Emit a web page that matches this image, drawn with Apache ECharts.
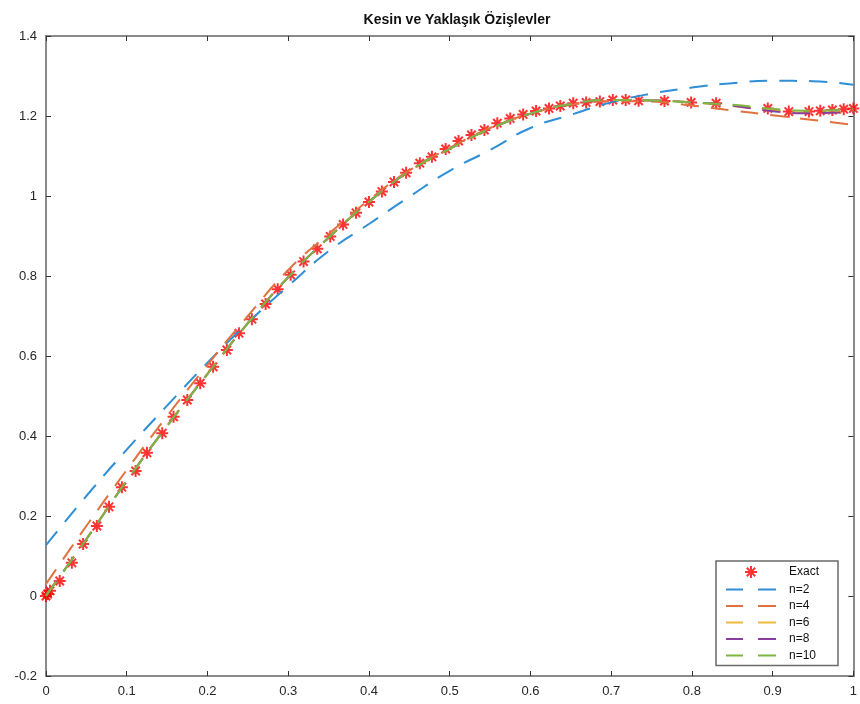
<!DOCTYPE html>
<html>
<head>
<meta charset="utf-8">
<script src="https://cdn.jsdelivr.net/npm/echarts@6/dist/echarts.min.js"></script>
<style>
  html, body { margin: 0; padding: 0; background: #fff; }
  #chart { width: 860px; height: 704px; }
</style>
</head>
<body>
<div id="chart"></div>
<script>
// exact solution points (solver output, uneven spacing)
var exactX = [0, 0.002, 0.005, 0.017, 0.032, 0.046, 0.063, 0.078, 0.094, 0.111, 0.125, 0.144, 0.158,
  0.175, 0.191, 0.207, 0.224, 0.239, 0.255, 0.272, 0.287, 0.303, 0.319, 0.336, 0.352, 0.368, 0.384,
  0.400, 0.416, 0.431, 0.446, 0.463, 0.478, 0.495, 0.511, 0.527, 0.543, 0.559, 0.575, 0.591, 0.607,
  0.623, 0.637, 0.653, 0.669, 0.686, 0.702, 0.718, 0.734, 0.766, 0.799, 0.830, 0.894, 0.920, 0.945,
  0.959, 0.974, 0.988, 1.0];
var exactY = [0, 0.005, 0.013, 0.0375, 0.083, 0.13, 0.175, 0.223, 0.272, 0.3125, 0.358, 0.407, 0.448,
  0.49, 0.532, 0.573, 0.615, 0.657, 0.692, 0.73, 0.767, 0.803, 0.836, 0.868, 0.899, 0.929, 0.958,
  0.985, 1.011, 1.035, 1.058, 1.082, 1.098, 1.1175, 1.1375, 1.1525, 1.165, 1.182, 1.194, 1.204, 1.2125,
  1.219, 1.225, 1.232, 1.234, 1.236, 1.24, 1.24, 1.238, 1.2375, 1.234, 1.232, 1.219, 1.211, 1.211,
  1.213, 1.215, 1.217, 1.219];

// approximations, read at x = 0, 0.05, ..., 1
var approxX = [0, 0.05, 0.1, 0.15, 0.2, 0.25, 0.3, 0.35, 0.4, 0.45, 0.5,
  0.55, 0.6, 0.65, 0.7, 0.75, 0.8, 0.85, 0.9, 0.95, 1.0];
var n2 = [0.127, 0.25, 0.366, 0.476, 0.583, 0.683, 0.775, 0.862, 0.93, 0.998, 1.063,
  1.115, 1.17, 1.203, 1.234, 1.256, 1.271, 1.282, 1.288, 1.287, 1.278];
var n4 = [0.03, 0.175, 0.315, 0.45, 0.578, 0.70, 0.815, 0.905, 0.99, 1.064, 1.12,
  1.17, 1.206, 1.228, 1.237, 1.236, 1.226, 1.214, 1.202, 1.19, 1.178];
var n6 = [0.002, 0.143, 0.289, 0.426, 0.556, 0.682, 0.797, 0.896, 0.985, 1.062, 1.118,
  1.168, 1.206, 1.23, 1.24, 1.239, 1.234, 1.225, 1.214, 1.208, 1.212];
var n8 = [0.001, 0.142, 0.288, 0.425, 0.555, 0.682, 0.797, 0.896, 0.985, 1.062, 1.118,
  1.168, 1.206, 1.23, 1.24, 1.239, 1.234, 1.226, 1.212, 1.207, 1.21];
var n10 = [0, 0.142, 0.288, 0.425, 0.555, 0.682, 0.797, 0.896, 0.985, 1.062, 1.118,
  1.168, 1.206, 1.23, 1.24, 1.239, 1.234, 1.228, 1.218, 1.213, 1.218];

var seriesNames = ['Exact', 'n=2', 'n=4', 'n=6', 'n=8', 'n=10'];
var lineColors = ['#2f8fd6', '#e07240', '#efbb3c', '#8a3f9c', '#80b640'];

function pairs(xs, ys) {
  return xs.map(function (x, i) { return [x, ys[i]]; });
}

var asterisk = 'path://M0,-10L0,10M-10,0L10,0M-7,-7L7,7M-7,7L7,-7';
var dashIcon = 'path://M0,0H17V2H0Z M32,0H50V2H32Z';
var font = 'Liberation Sans, Helvetica, Arial, sans-serif';

var lineData = [n2, n4, n6, n8, n10];
var series = [{
  name: 'Exact',
  type: 'scatter',
  data: pairs(exactX, exactY),
  symbol: asterisk,
  symbolSize: 12,
  itemStyle: { color: '#ff0000', borderColor: '#ff0000', borderWidth: 2 }
}];
lineData.forEach(function (ys, i) {
  series.push({
    name: seriesNames[i + 1],
    type: 'line',
    data: pairs(approxX, ys),
    smooth: true,
    symbol: 'none',
    lineStyle: { color: lineColors[i], width: 2, type: [18, 12] },
    itemStyle: { color: lineColors[i] }
  });
});

var legendData = seriesNames.map(function (name, i) {
  return i === 0 ? { name: name } : { name: name, icon: dashIcon };
});

function axisCommon(extra) {
  var base = {
    type: 'value',
    axisLine: { show: true, onZero: false, lineStyle: { color: '#8a8a8a', width: 2 } },
    axisTick: { show: true, inside: true, length: 5, lineStyle: { color: '#333', width: 1 } },
    splitLine: { show: false },
    axisLabel: { color: '#262626', fontFamily: font, fontSize: 13 }
  };
  return Object.assign(base, extra);
}

var chart = echarts.init(document.getElementById('chart'));
chart.setOption({
  animation: false,
  backgroundColor: '#fff',
  title: {
    text: 'Kesin ve Yaklaşık Özişlevler',
    left: 452, top: 8, textAlign: 'center',
    textStyle: { fontFamily: font, fontSize: 14, fontWeight: 'bold', color: '#111' }
  },
  grid: { left: 46, right: 2, top: 36, bottom: 28 },
  legend: {
    data: legendData,
    orient: 'vertical',
    left: 716, top: 561,
    padding: [4, 19, 4, 10],
    itemWidth: 50, itemHeight: 12, itemGap: 4.5,
    backgroundColor: '#fff',
    borderColor: '#6a6a6a', borderWidth: 1.5,
    textStyle: { fontFamily: font, fontSize: 12, color: '#111', padding: [0, 0, 0, 8] }
  },
  xAxis: [
    axisCommon({ min: 0, max: 1, interval: 0.1, position: 'bottom', axisLabel: { color: '#262626', fontFamily: font, fontSize: 13, margin: 9 } }),
    axisCommon({ min: 0, max: 1, interval: 0.1, position: 'top', axisLabel: { show: false } })
  ],
  yAxis: [
    axisCommon({ min: -0.2, max: 1.4, interval: 0.2, position: 'left', axisLabel: { color: '#262626', fontFamily: font, fontSize: 13, margin: 9 } }),
    axisCommon({ min: -0.2, max: 1.4, interval: 0.2, position: 'right', axisLabel: { show: false } })
  ],
  series: series
});
</script>
</body>
</html>
